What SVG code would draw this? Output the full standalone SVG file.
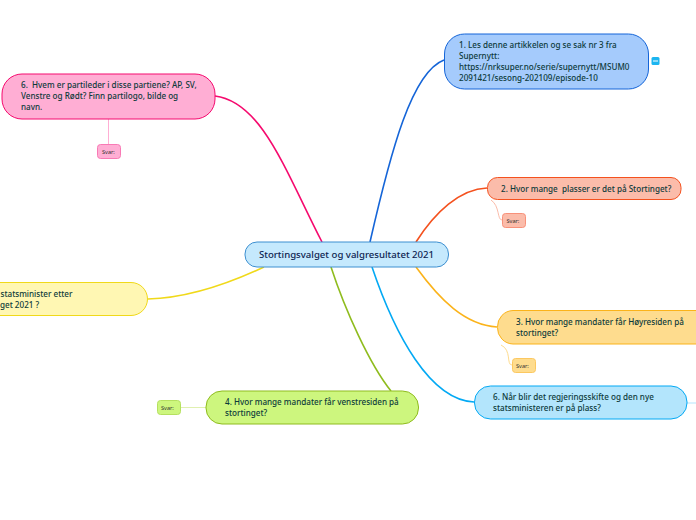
<svg xmlns="http://www.w3.org/2000/svg" width="696" height="520" viewBox="0 0 696 520">
<style>
text{font-family:"Noto Sans","DejaVu Sans",sans-serif;font-size:8.1px;font-weight:500;fill:#0c3a3a;white-space:pre}
.c{font-size:9.6px;fill:#0d2350}
.s{font-size:5.6px;font-weight:400;fill:#333}
.l{fill:none;stroke-width:1.6}
.t{fill:none;stroke-width:1}
</style>
<rect width="696" height="520" fill="#fff"/>
<g id="connectors">
<path class="l" stroke="#f50a6e" d="M215 96C262 102 285 170 322 242"/>
<path class="l" stroke="#1565d8" d="M444 60C412 72 391 150 370 242"/>
<path class="l" stroke="#f4511e" d="M487 188C460 189 435 212 416 242"/>
<path class="l" stroke="#fbb31a" d="M497 327C465 325 440 300 416 267"/>
<path class="l" stroke="#03a9f4" d="M474 402C430 400 395 335 372 267"/>
<path class="l" stroke="#8fbc1e" d="M391 391C370 365 345 310 331 267"/>
<path class="l" stroke="#f0d91a" d="M148 299C190 298 230 283 264 267"/>
<path class="t" stroke="#ffaed4" stroke-width="1.5" d="M108.500 119V144"/>
<path class="t" stroke="#fbbcaa" d="M491 200C500 206 497 220 502 220"/>
<path class="t" stroke="#fedc8e" d="M501 345C512 350 506 365 512 365"/>
<path class="t" stroke="#e0f0b0" stroke-width="1.500" d="M180 407.500H206"/>
<path class="t" stroke="#b3e5fc" stroke-width="1.500" d="M687 403H696"/>
</g>
<g id="n0"><rect x="245" y="242" width="203.500" height="25" rx="12" fill="#c5e9fd" stroke="#3d8fd0"/><text class="c" x="259" y="258">Stortingsvalget og valgresultatet 2021</text></g>
<g id="n1"><rect x="444.500" y="34" width="204" height="55" rx="20" fill="#a5cbfc" stroke="#1565d8"/>
<text x="459" y="47.500">1. Les denne artikkelen og se sak nr 3 fra</text><text x="459" y="58.500">Supernytt:</text><text x="459" y="69.500">https://nrksuper.no/serie/supernytt/MSUM0</text><text x="459" y="80.500">2091421/sesong-202109/episode-10</text></g>
<g id="n1icon"><rect x="651.500" y="57" width="8" height="8" rx="1.500" fill="#1cb5f0"/><path d="M653 61H658" stroke="#fff" stroke-width="1"/></g>
<g id="n2"><rect x="487.500" y="177.500" width="193.500" height="22" rx="10" fill="#fbbcaa" stroke="#f4511e"/><text x="501" y="192">2. Hvor mange  plasser er det på Stortinget?</text></g>
<g id="n2s"><rect x="502.500" y="213.500" width="23" height="14" rx="3" fill="#fbbcaa" stroke="#f8917a"/><text class="s" x="506.500" y="222.500">Svar:</text></g>
<g id="n3"><path d="M696 310.500H513a16 16 0 0 0-15.500 16.500v.5a16 16 0 0 0 15.500 16.500H696" fill="#fedc8e" stroke="#fbb31a"/><text x="516" y="325">3. Hvor mange mandater får Høyresiden på</text><text x="516" y="336">stortinget?</text></g>
<g id="n3s"><rect x="512.500" y="358.500" width="23" height="14" rx="3" fill="#fedc8e" stroke="#fcc860"/><text class="s" x="516" y="367.500">Svar:</text></g>
<g id="n6b"><rect x="474.500" y="386" width="212.500" height="33" rx="16" fill="#b3e5fc" stroke="#03a9f4"/><text x="493" y="400">6. Når blir det regjeringsskifte og den nye</text><text x="493" y="411">statsministeren er på plass?</text></g>
<g id="n4"><rect x="206" y="391" width="212.500" height="33" rx="16" fill="#cdf67e" stroke="#8fbc1e"/><text x="225" y="405">4. Hvor mange mandater får venstresiden på</text><text x="225" y="416">stortinget?</text></g>
<g id="n4s"><rect x="157.500" y="400.500" width="23" height="14" rx="3" fill="#cdf67e" stroke="#b5e060"/><text class="s" x="161" y="409.500">Svar:</text></g>
<g id="n5"><path d="M0 282.500H131a16.500 16.500 0 0 1 0 33H0" fill="#fff7b3" stroke="#f0d91a"/><text x="0.500" y="297">statsminister etter</text><text x="0" y="308">get 2021 ?</text></g>
<g id="n6"><rect x="2" y="74" width="213" height="45" rx="20" fill="#ffaed4" stroke="#f50a6e"/><text x="21" y="88">6.  Hvem er partileder i disse partiene? AP, SV,</text><text x="21" y="99">Venstre og Rødt? Finn partilogo, bilde og</text><text x="21" y="110">navn.</text></g>
<g id="n6s"><rect x="97.500" y="144.500" width="23" height="14" rx="3" fill="#ffaed4" stroke="#f87ab5"/><text class="s" x="102" y="153.500">Svar:</text></g>
</svg>
